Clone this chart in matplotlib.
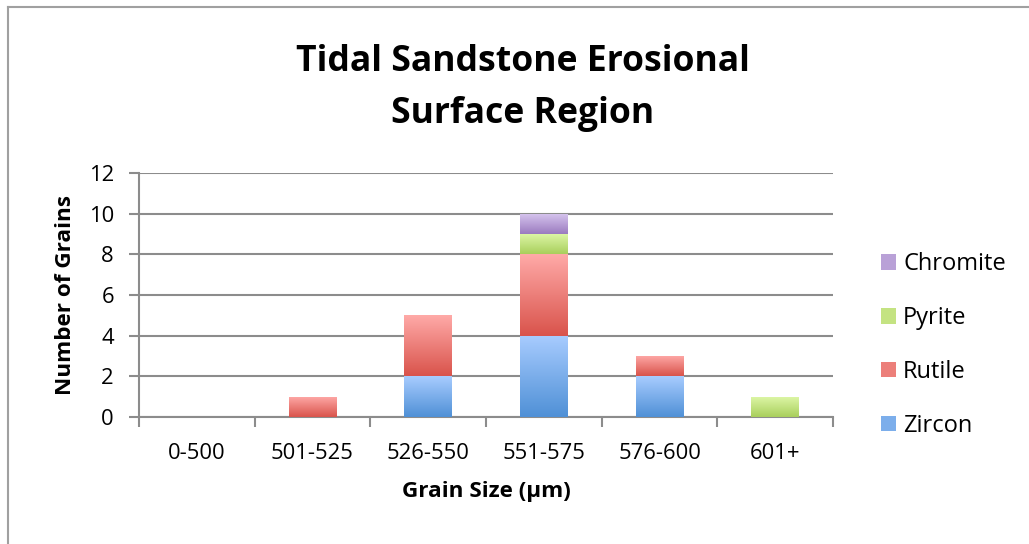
#!/usr/bin/env python

import numpy as np
import matplotlib
matplotlib.use("Agg")
import matplotlib.pyplot as plt
from matplotlib.colors import LinearSegmentedColormap
from matplotlib.lines import Line2D
from matplotlib.patches import Patch

plt.rcParams['font.family'] = ['Open Sans', 'DejaVu Sans']

categories = ['0-500', '501-525', '526-550', '551-575', '576-600', '601+']
zircon = [0, 0, 2, 4, 2, 0]
rutile = [0, 1, 3, 4, 1, 0]
pyrite = [0, 0, 0, 1, 0, 1]
chromite = [0, 0, 0, 1, 0, 0]

series = [('Zircon', zircon, '#a8ccff', '#4f90d6'),
          ('Rutile', rutile, '#ffaaa8', '#d9534b'),
          ('Pyrite', pyrite, '#def7a8', '#a9cf5c'),
          ('Chromite', chromite, '#d8c6ef', '#9a7bbf')]

fig = plt.figure(figsize=(10.29, 5.44), dpi=100)
ax = fig.add_axes([139/1029, 1 - 417/544, 694/1029, 244/544])

x = np.arange(len(categories))
bottom = np.zeros(len(categories))
handles = []
for name, vals, top_c, bot_c in series:
  vals = np.array(vals, dtype=float)
  bars = ax.bar(x, vals, width=0.41, bottom=bottom, color='none', edgecolor='none', zorder=3)
  cmap = LinearSegmentedColormap.from_list(name, [bot_c, top_c])
  grad = np.linspace(0, 1, 256).reshape(-1, 1)
  for r in bars:
    if r.get_height() <= 0:
      continue
    x0, y0 = r.get_x(), r.get_y()
    im = ax.imshow(grad, cmap=cmap, aspect='auto', origin='lower',
                   extent=[x0, x0 + r.get_width(), y0, y0 + r.get_height()], zorder=3)
    im.set_clip_path(r)
  bottom += vals
  mid = cmap(0.5)
  handles.append(Patch(facecolor=mid, edgecolor='none', label=name))

ax.set_xlim(-0.5, len(categories) - 0.5)
ax.set_ylim(0, 12)
ax.set_yticks(range(0, 13, 2))
ax.set_xticks(x)
ax.set_xticklabels(categories)
ax.set_xticks(np.arange(-0.5, len(categories), 1), minor=True)
ax.tick_params(axis='x', which='major', length=0, pad=19, labelsize=15.8)
ax.tick_params(axis='x', which='minor', length=7, width=1.5, color='#8c8c8c')
ax.tick_params(axis='y', length=7, width=1.5, color='#8c8c8c', labelsize=15.8, pad=11)
ax.grid(axis='y', color='#8c8c8c', linewidth=1.5, zorder=0)
ax.set_axisbelow(True)
for s in ['top', 'right']:
  ax.spines[s].set_visible(False)
for s in ['left', 'bottom']:
  ax.spines[s].set_color('#8c8c8c')
  ax.spines[s].set_linewidth(1.5)

ax.set_xlabel('Grain Size (µm)', fontsize=16.2, fontweight='bold', labelpad=12)
ax.set_ylabel('Number of Grains', fontsize=16.2, fontweight='bold', labelpad=9)
fig.text(523/1029, 1 - 88/544, 'Tidal Sandstone Erosional\nSurface Region', ha='center', va='center',
         fontsize=25.6, fontweight='bold', linespacing=1.58)

ax.legend(handles=handles[::-1], loc='center left', bbox_to_anchor=(881/1029, 1 - 345/544),
          bbox_transform=fig.transFigure, frameon=False, fontsize=17, borderpad=0,
          borderaxespad=0, handlelength=0.64, handleheight=0.64, handletextpad=0.3,
          labelspacing=1.26)

fig.add_artist(Line2D([7.5/1029, 7.5/1029], [0, 1 - 6.5/544], color='#a0a0a0', linewidth=1.5))
fig.add_artist(Line2D([7.5/1029, 1], [1 - 6.5/544, 1 - 6.5/544], color='#a0a0a0', linewidth=1.5))

fig.savefig('out.png', dpi=100, facecolor='w')
